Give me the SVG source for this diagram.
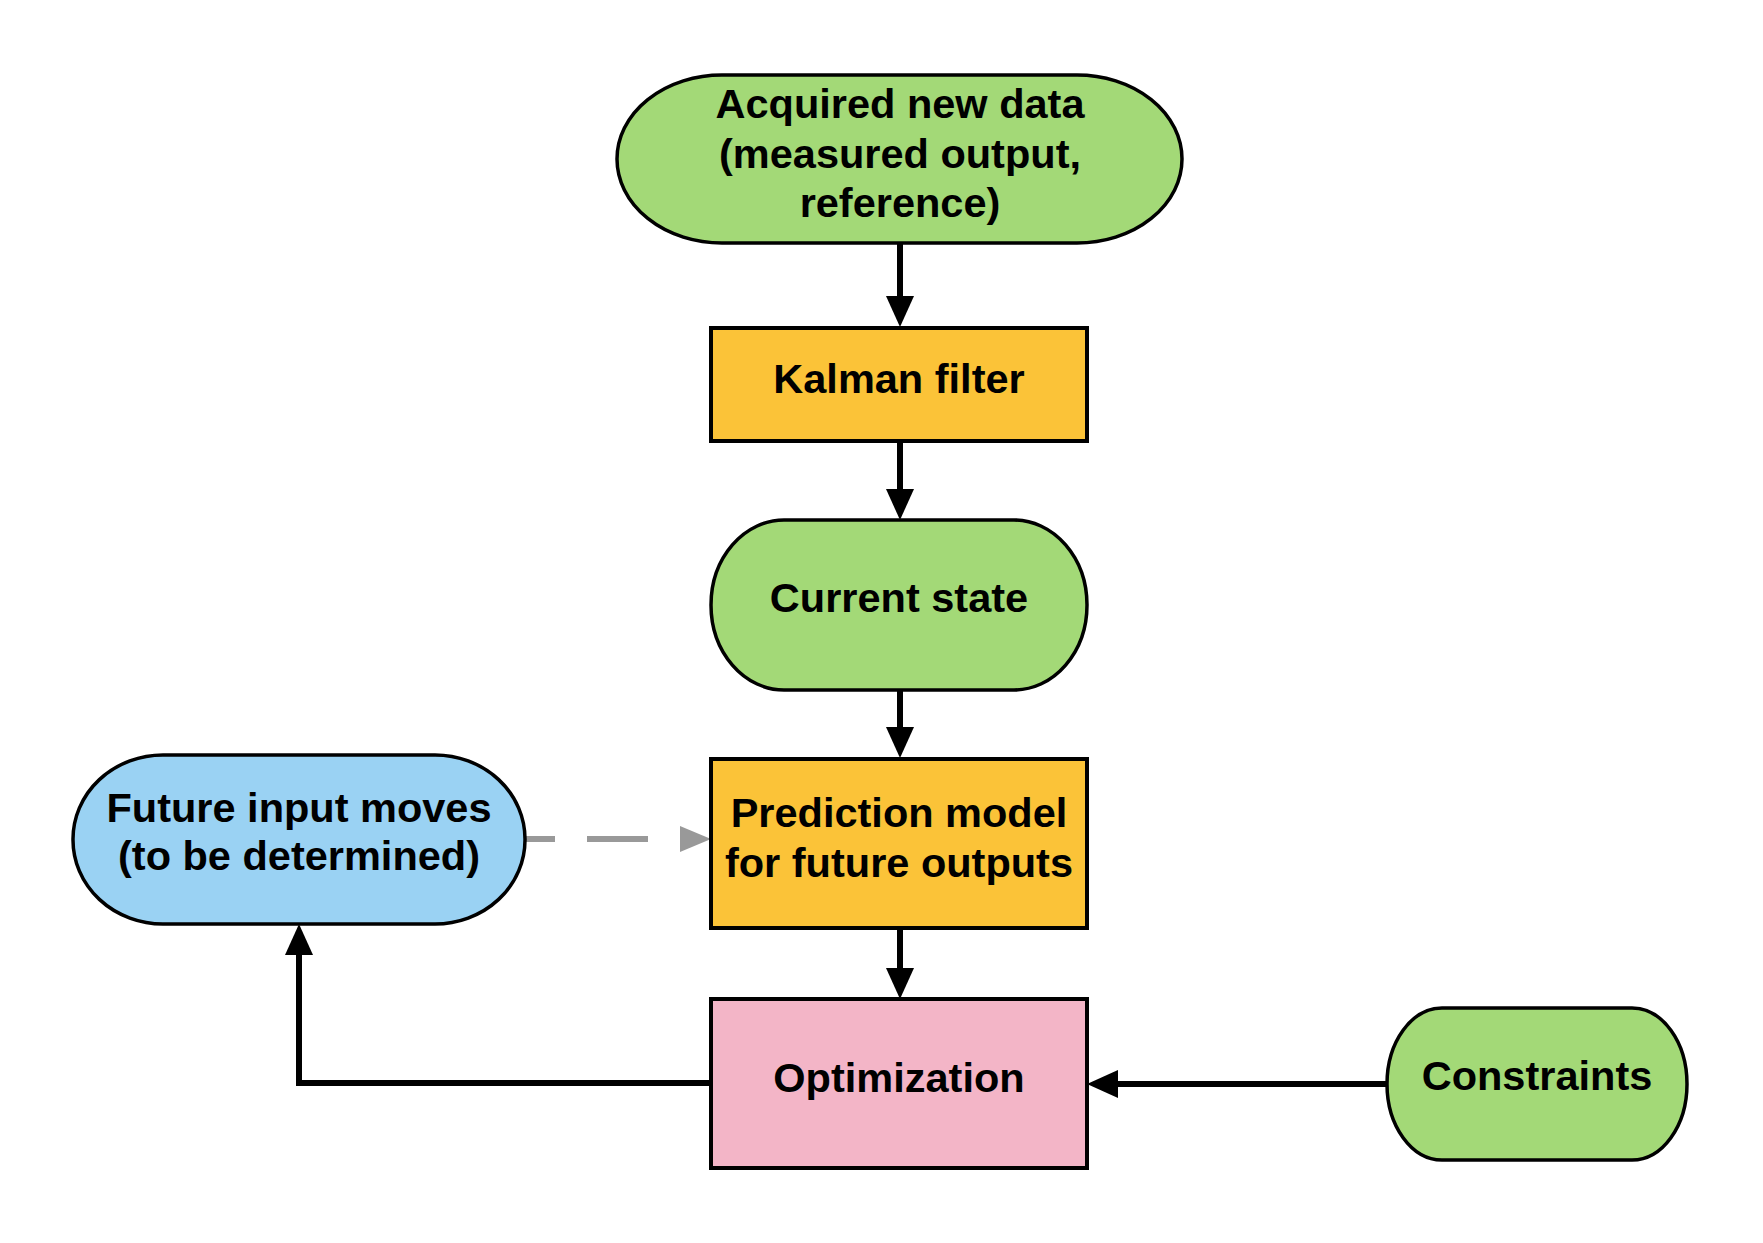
<svg xmlns="http://www.w3.org/2000/svg" width="1763" height="1243" viewBox="0 0 1763 1243">
<style>
.lbl{font-family:"Liberation Sans",Arial,sans-serif;font-weight:bold;font-size:41.5px;fill:#000;text-anchor:middle}
.pill{stroke:#000;stroke-width:3.5}
.box{stroke:#000;stroke-width:4}
.green{fill:#A3D977}
.yellow{fill:#FBC338}
.pink{fill:#F3B5C7}
.blue{fill:#9AD2F3}
.conn{fill:none;stroke:#000;stroke-width:6}
.dash{fill:none;stroke:#999;stroke-width:6;stroke-dasharray:61 32;stroke-dashoffset:31}
</style>
<defs>
<marker id="ah" markerUnits="userSpaceOnUse" markerWidth="32" markerHeight="29" refX="0" refY="14" orient="auto" overflow="visible"><path d="M0,0 L31,14 L0,28 Z" fill="#000"/></marker>
<marker id="ahg" markerUnits="userSpaceOnUse" markerWidth="32" markerHeight="27" refX="0" refY="13" orient="auto" overflow="visible"><path d="M0,0 L31,13 L0,26 Z" fill="#999"/></marker>
</defs>
<rect width="1763" height="1243" fill="#fff"/>
<g id="connectors">
<path class="conn" d="M900,243 V296" marker-end="url(#ah)"/>
<path class="conn" d="M900,441 V489" marker-end="url(#ah)"/>
<path class="conn" d="M900,690 V727" marker-end="url(#ah)"/>
<path class="conn" d="M900,928 V968" marker-end="url(#ah)"/>
<path class="conn" d="M711,1083 H299 V955" marker-end="url(#ah)"/>
<path class="conn" d="M1387,1084 H1118" marker-end="url(#ah)"/>
<path class="dash" d="M525,839 H680" marker-end="url(#ahg)"/>
</g>
<g id="acquired">
<rect class="pill green" x="617" y="75" width="565" height="168" rx="105" ry="84"/>
<text class="lbl" x="900" y="118">Acquired new data</text>
<text class="lbl" x="900" y="168">(measured output,</text>
<text class="lbl" x="900" y="217">reference)</text>
</g>
<g id="kalman">
<rect class="box yellow" x="711" y="328" width="376" height="113"/>
<text class="lbl" x="899" y="393">Kalman filter</text>
</g>
<g id="current">
<rect class="pill green" x="711" y="520" width="376" height="170" rx="73" ry="85"/>
<text class="lbl" x="899" y="612">Current state</text>
</g>
<g id="prediction">
<rect class="box yellow" x="711" y="759" width="376" height="169"/>
<text class="lbl" x="899" y="827">Prediction model</text>
<text class="lbl" x="899" y="877">for future outputs</text>
</g>
<g id="optimization">
<rect class="box pink" x="711" y="999" width="376" height="169"/>
<text class="lbl" x="899" y="1092">Optimization</text>
</g>
<g id="future">
<rect class="pill blue" x="73" y="755" width="452" height="169" rx="90" ry="84"/>
<text class="lbl" x="299" y="822">Future input moves</text>
<text class="lbl" x="299" y="870">(to be determined)</text>
</g>
<g id="constraints">
<rect class="pill green" x="1387" y="1008" width="300" height="152" rx="55" ry="76"/>
<text class="lbl" x="1537" y="1090">Constraints</text>
</g>
</svg>
